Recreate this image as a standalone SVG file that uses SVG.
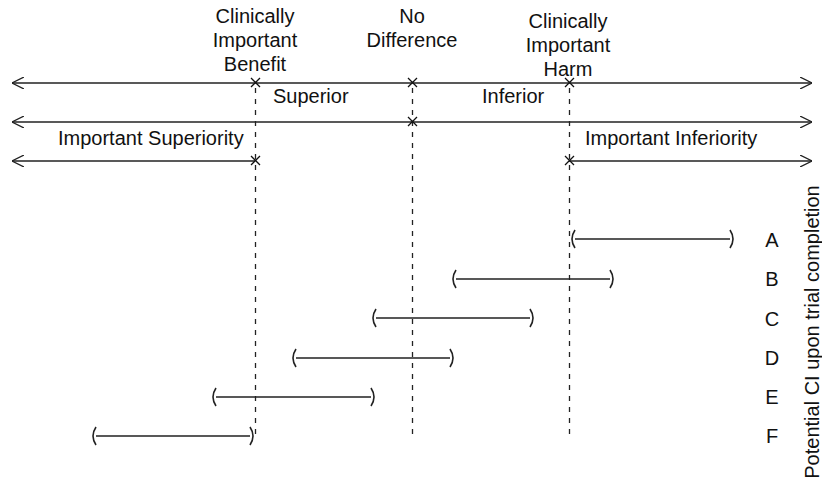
<svg xmlns="http://www.w3.org/2000/svg" width="822" height="484" viewBox="0 0 822 484">
<style>
text{font-family:"Liberation Sans",Arial,Helvetica,sans-serif;font-size:20px;fill:#111}
.c{text-anchor:middle}
.ln{stroke:#222;stroke-width:1.5;fill:none}
.dash{stroke:#222;stroke-width:1.3;stroke-dasharray:5 6;fill:none}
.x{stroke:#111;stroke-width:1.3;fill:none}
.br{stroke:#222;stroke-width:1.6;fill:none}
</style>
<defs>
<marker id="ah" viewBox="0 0 12 12" refX="12" refY="6" markerWidth="12" markerHeight="12" markerUnits="userSpaceOnUse" orient="auto-start-reverse">
<path d="M0,0 L12,6 L0,12" fill="none" stroke="#222" stroke-width="1.3"/>
</marker>
</defs>
<g id="connectors">
<line class="ln" x1="12" y1="83" x2="812" y2="83" marker-start="url(#ah)" marker-end="url(#ah)"/>
<line class="ln" x1="12" y1="122" x2="812" y2="122" marker-start="url(#ah)" marker-end="url(#ah)"/>
<line class="ln" x1="12" y1="161" x2="255" y2="161" marker-start="url(#ah)"/>
<line class="ln" x1="569" y1="161" x2="812" y2="161" marker-end="url(#ah)"/>
<line class="dash" x1="255.5" y1="88" x2="255.5" y2="438"/>
<line class="dash" x1="412.5" y1="88" x2="412.5" y2="438"/>
<line class="dash" x1="569.5" y1="88" x2="569.5" y2="438"/>
<path class="x" d="M251,78 l9,9 M260,78 l-9,9 M408,78 l9,9 M417,78 l-9,9 M565,78 l9,9 M574,78 l-9,9 M408,117 l9,9 M417,117 l-9,9 M251,156 l9,9 M260,156 l-9,9 M565,156 l9,9 M574,156 l-9,9"/>
</g>
<g id="label-benefit">
<text class="c" x="255" y="23">Clinically</text>
<text class="c" x="255" y="47">Important</text>
<text class="c" x="255" y="71">Benefit</text>
</g>
<g id="label-nodiff">
<text class="c" x="412" y="23">No</text>
<text class="c" x="412" y="47">Difference</text>
</g>
<g id="label-harm">
<text class="c" x="568" y="28">Clinically</text>
<text class="c" x="568" y="52">Important</text>
<text class="c" x="568" y="76">Harm</text>
</g>
<g id="label-superior"><text x="273" y="103">Superior</text></g>
<g id="label-inferior"><text x="482" y="103">Inferior</text></g>
<g id="label-imp-sup"><text x="58" y="145">Important Superiority</text></g>
<g id="label-imp-inf"><text x="585" y="145">Important Inferiority</text></g>
<g id="ci-A">
<path class="br" d="M575,230 q-6,9 0,18 M575,239 H730 M730,230 q6,9 0,18"/>
<text class="c" x="772" y="247">A</text>
</g>
<g id="ci-B">
<path class="br" d="M456,270 q-6,9 0,18 M456,279 H610 M610,270 q6,9 0,18"/>
<text class="c" x="772" y="286">B</text>
</g>
<g id="ci-C">
<path class="br" d="M376,309 q-6,9 0,18 M376,318 H530 M530,309 q6,9 0,18"/>
<text class="c" x="772" y="326">C</text>
</g>
<g id="ci-D">
<path class="br" d="M296,349 q-6,9 0,18 M296,358 H450 M450,349 q6,9 0,18"/>
<text class="c" x="772" y="365">D</text>
</g>
<g id="ci-E">
<path class="br" d="M216,388 q-6,9 0,18 M216,397 H371 M371,388 q6,9 0,18"/>
<text class="c" x="772" y="404">E</text>
</g>
<g id="ci-F">
<path class="br" d="M96,427 q-6,9 0,18 M96,436 H250 M250,427 q6,9 0,18"/>
<text class="c" x="772" y="443">F</text>
</g>
<g id="axis-label">
<text class="c" transform="translate(819,332) rotate(-90)">Potential CI upon trial completion</text>
</g>
</svg>
